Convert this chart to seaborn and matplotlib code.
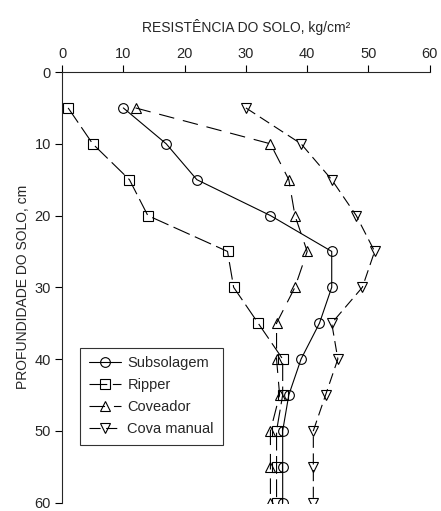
import pandas as pd
import matplotlib
matplotlib.use("Agg")
import matplotlib.pyplot as plt
import seaborn as sns

# profundidade (cm) e resistencia (kg/cm2)
depth = [5, 10, 15, 20, 25, 30, 35, 40, 45, 50, 55, 60]
subsolagem = [10, 17, 22, 34, 44, 44, 42, 39, 37, 36, 36, 36]
ripper = [1, 5, 11, 14, 27, 28, 32, 36, 36, 35, 35, 35]
coveador = [12, 34, 37, 38, 40, 38, 35, 35, 35.5, 34, 34, 34]
cova_manual = [30, 39, 44, 48, 51, 49, 44, 45, 43, 41, 41, 41]

series = {
    'Subsolagem': subsolagem,
    'Ripper': ripper,
    'Coveador': coveador,
    'Cova manual': cova_manual,
}

rows = []
for name, vals in series.items():
    for d, v in zip(depth, vals):
        rows.append({'metodo': name, 'prof': d, 'resist': v})
df = pd.DataFrame(rows)

sns.set_style("ticks")
plt.rcParams['font.family'] = ['Liberation Sans', 'DejaVu Sans']
plt.rcParams['font.size'] = 10

fig = plt.figure(figsize=(4.41, 5.11), dpi=100)
ax = fig.add_axes([0.1406, 0.0165, 0.834, 0.8425])

markers = {'Subsolagem': 'o', 'Ripper': 's', 'Coveador': '^', 'Cova manual': 'v'}
dashes = {'Subsolagem': '', 'Ripper': (16, 5), 'Coveador': (14, 8), 'Cova manual': (10, 5)}
palette = {k: 'black' for k in series}

sns.lineplot(data=df, x='resist', y='prof', hue='metodo', style='metodo',
             markers=markers, dashes=dashes, palette=palette, sort=False,
             estimator=None, orient='y', lw=0.8, markersize=7,
             markerfacecolor='none', markeredgecolor='black',
             markeredgewidth=0.8, ax=ax)

ax.set_xlim(0, 60)
ax.set_ylim(60, 0)
ax.set_xticks(range(0, 61, 10))
ax.set_yticks(range(0, 61, 10))
ax.xaxis.tick_top()
ax.xaxis.set_label_position('top')
ax.spines['right'].set_visible(False)
ax.spines['bottom'].set_visible(False)
ax.spines['top'].set_linewidth(0.8)
ax.spines['left'].set_linewidth(0.8)
ax.tick_params(length=5, width=0.8, labelsize=10.5, color='black', pad=3)
ax.set_xlabel('RESISTÊNCIA DO SOLO, kg/cm²', fontsize=10, labelpad=11)
ax.set_ylabel('PROFUNDIDADE DO SOLO, cm', fontsize=10, labelpad=3)

leg = ax.legend(loc='upper left', bbox_to_anchor=(0.049, 0.36), borderaxespad=0,
                frameon=True, fancybox=False, edgecolor='black', fontsize=10.5,
                handlelength=2.2, handletextpad=0.45, labelspacing=0.55,
                borderpad=0.6)
leg.get_frame().set_linewidth(0.8)
for h in leg.legend_handles:
    h.set_markerfacecolor('none')
    h.set_markeredgecolor('black')

fig.savefig('out.png', dpi=100)
